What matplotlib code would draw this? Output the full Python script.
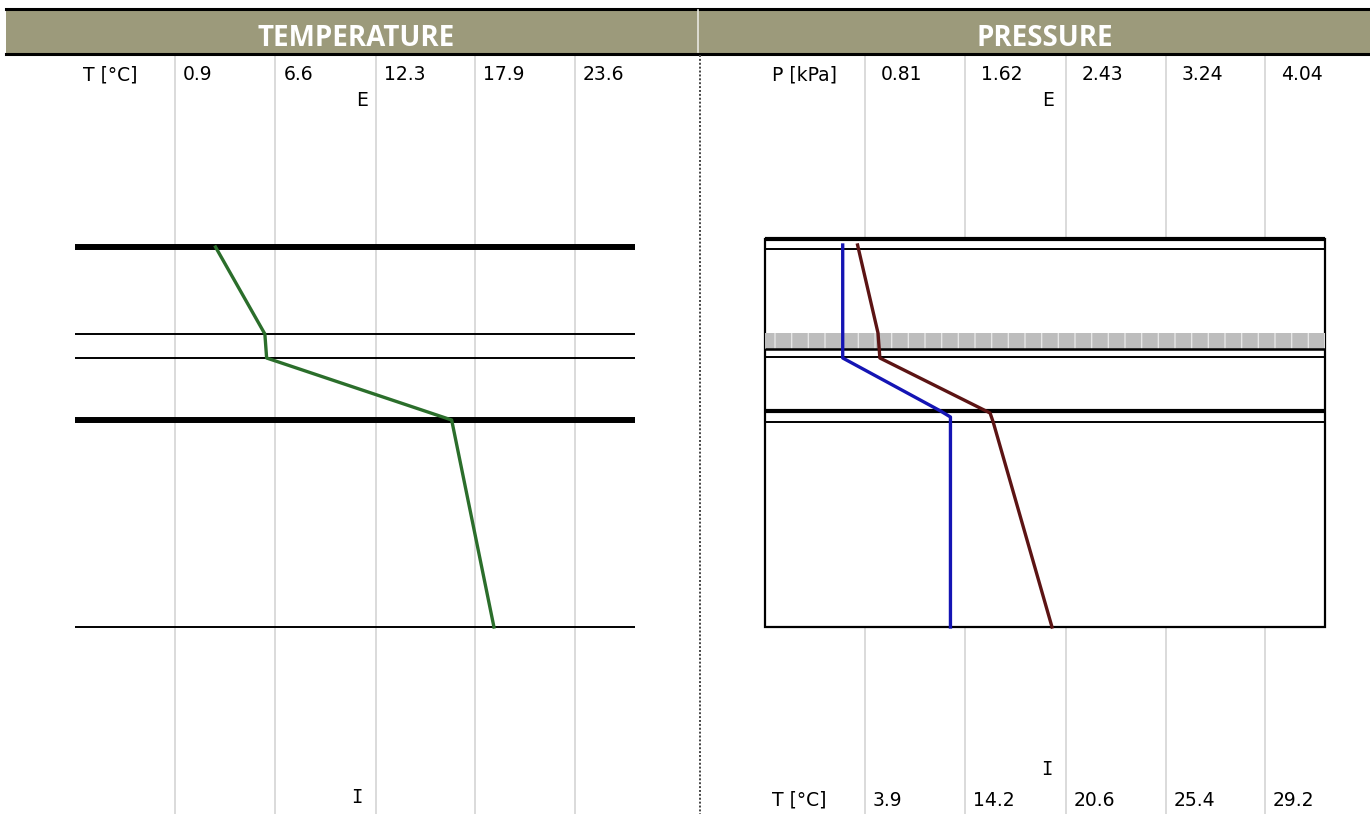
import matplotlib
matplotlib.use("Agg")
import matplotlib.pyplot as plt
import matplotlib.transforms as mtransforms
from matplotlib.patches import Rectangle

# --- data ---
temp_ticks = [0.9, 6.6, 12.3, 17.9, 23.6]
pres_ticks = [0.81, 1.62, 2.43, 3.24, 4.04]
dew_labels = ["3.9", "14.2", "20.6", "25.4", "29.2"]

# depth in cm from the exterior face (E) towards the interior (I)
left_layers = [0.0, 8.7, 11.1, 17.3, 38.0]
left_thick = [True, False, False, True, False]

right_layers = [-0.8, 0.2, 10.2, 11.0, 16.4, 17.5, 38.0]
right_widths = [3.0, 1.4, 1.8, 1.4, 3.0, 1.4, 1.4]
band = (8.6, 10.2)

temp_depth = [0.0, 8.7, 11.1, 17.3, 38.0]
temp_vals = [3.2, 6.0, 6.1, 16.6, 19.0]

vap_depth = [-0.2, 11.1, 16.4, 17.0, 38.0]
vap_vals = [0.63, 0.63, 1.42, 1.50, 1.50]

sat_depth = [-0.2, 8.6, 11.1, 16.6, 17.5, 38.0]
sat_vals = [0.75, 0.915, 0.93, 1.82, 1.845, 2.32]

W, H = 1370, 814
fig = plt.figure(figsize=(W / 100, H / 100), dpi=100)
plt.rcParams["font.family"] = ["DejaVu Sans"]

grid_c = "#d4d4d4"
fs = 13.5
ylim = (56.7, -19.2)
top_h = (H - 55) / H
ytop = 0.974

# ---------------- left panel: temperature ----------------
ax1 = fig.add_axes([8 / W, 0, 690 / W, top_h])
step = (temp_ticks[-1] - temp_ticks[0]) / 4
ax1.set_xlim(temp_ticks[0] - 1.67 * step, temp_ticks[0] + 5.23 * step)
ax1.set_ylim(*ylim)
ax1.set_axis_off()
for t in temp_ticks:
    ax1.axvline(t, color=grid_c, lw=1.2, zorder=1)
for y, thick in zip(left_layers, left_thick):
    ax1.axhline(y, xmin=0.097, xmax=0.909, color="black",
                lw=4.3 if thick else 1.4, solid_capstyle="butt", zorder=3)
ax1.plot(temp_vals, temp_depth, color="#2b6e2b", lw=2.4, zorder=4)

tr = mtransforms.blended_transform_factory(ax1.transData, ax1.transAxes)
off = mtransforms.offset_copy(tr, fig=fig, x=8, y=0, units="dots")
for t in temp_ticks:
    ax1.text(t, ytop, f"{t:.1f}", transform=off, ha="left", va="center", fontsize=fs)
ax1.text(0.187, ytop, "T [°C]", transform=ax1.transAxes, ha="right", va="center", fontsize=fs)
ax1.text(0.513, 0.94, "E", transform=ax1.transAxes, ha="center", va="center", fontsize=fs)
ax1.text(0.506, 0.022, "I", transform=ax1.transAxes, ha="center", va="center",
         fontsize=fs, family="DejaVu Sans Mono")

# ---------------- right panel: pressure ----------------
ax2 = fig.add_axes([700 / W, 0, 670 / W, top_h])
step = (pres_ticks[-1] - pres_ticks[0]) / 4
ax2.set_xlim(pres_ticks[0] - 1.65 * step, pres_ticks[0] + 5.05 * step)
ax2.set_ylim(*ylim)
ax2.set_axis_off()
for p in pres_ticks:
    ax2.axvline(p, color=grid_c, lw=1.2, zorder=1)

bl = mtransforms.blended_transform_factory(ax2.transAxes, ax2.transData)
ax2.add_patch(Rectangle((0.097, right_layers[0]), 0.836, right_layers[-1] - right_layers[0],
                        transform=bl, facecolor="white", edgecolor="black", lw=1.6, zorder=2))
ax2.add_patch(Rectangle((0.097, band[0]), 0.836, band[1] - band[0], transform=bl,
                        facecolor="#bdbdbd", edgecolor="#e6e6e6", hatch="|", lw=0, zorder=2.5))
for y, lw in zip(right_layers, right_widths):
    ax2.axhline(y, xmin=0.097, xmax=0.933, color="black", lw=lw,
                solid_capstyle="butt", zorder=3)
ax2.plot(vap_vals, vap_depth, color="#1414b4", lw=2.4, zorder=4)
ax2.plot(sat_vals, sat_depth, color="#5c1414", lw=2.4, zorder=4)

tr = mtransforms.blended_transform_factory(ax2.transData, ax2.transAxes)
off_top = mtransforms.offset_copy(tr, fig=fig, x=16, y=0, units="dots")
off_bot = mtransforms.offset_copy(tr, fig=fig, x=8, y=0, units="dots")
for p in pres_ticks:
    ax2.text(p, ytop, f"{p:.2f}", transform=off_top, ha="left", va="center", fontsize=fs)
for p, lab in zip(pres_ticks, dew_labels):
    ax2.text(p, 0.018, lab, transform=off_bot, ha="left", va="center", fontsize=fs)
ax2.text(0.204, ytop, "P [kPa]", transform=ax2.transAxes, ha="right", va="center", fontsize=fs)
ax2.text(0.189, 0.018, "T [°C]", transform=ax2.transAxes, ha="right", va="center", fontsize=fs)
ax2.text(0.519, 0.94, "E", transform=ax2.transAxes, ha="center", va="center", fontsize=fs)
ax2.text(0.518, 0.058, "I", transform=ax2.transAxes, ha="center", va="center",
         fontsize=fs, family="DejaVu Sans Mono")

# ---------------- header and frame ----------------
fr = fig.add_axes([0, 0, 1, 1], zorder=10)
fr.set_xlim(0, W)
fr.set_ylim(H, 0)
fr.set_axis_off()
fr.patch.set_alpha(0)
fr.add_patch(Rectangle((6, 9), W - 6, 44, facecolor="#9c9a7b", edgecolor="none"))
fr.plot([6, W], [8.5, 8.5], color="black", lw=2.2)
fr.plot([6, W], [53.5, 53.5], color="black", lw=2.2)
fr.plot([698, 698], [10, 52], color="#e8e8e0", lw=1.2)
fr.plot([700, 700], [55, H], color="#444444", lw=1.4, linestyle=(0, (1, 1)))
fr.text(356, 39, "TEMPERATURE", color="white", fontsize=20, fontweight="bold",
        family="Open Sans", ha="center", va="center")
fr.text(1045, 39, "PRESSURE", color="white", fontsize=20, fontweight="bold",
        family="Open Sans", ha="center", va="center")

fig.savefig("out.png", dpi=100)
